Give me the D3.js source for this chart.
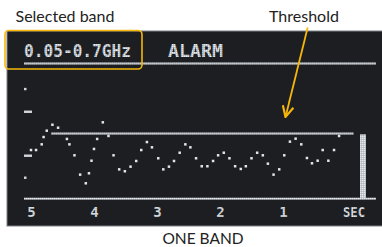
<!DOCTYPE html>
<html>
<head>
<meta charset="utf-8">
<style>
  html, body { margin: 0; padding: 0; background: #fff; }
  svg { display: block; }
</style>
</head>
<body>
<div id="chart"></div>
<script src="https://cdnjs.cloudflare.com/ajax/libs/d3/7.8.5/d3.min.js"></script>
<script>
  // Chart data: seconds before now and signal level (0-100 of the screen)
  const times = [5.00, 4.92, 4.83, 4.80, 4.75, 4.66, 4.57, 4.43, 4.39, 4.31,
                 4.22, 4.13, 4.08, 4.04, 4.00, 3.95, 3.86, 3.77, 3.69, 3.60,
                 3.51, 3.42, 3.33, 3.25, 3.16, 3.08, 2.98, 2.90, 2.81, 2.73,
                 2.64, 2.55, 2.47, 2.38, 2.29, 2.20, 2.11, 2.03, 1.94, 1.85,
                 1.76, 1.67, 1.59, 1.50, 1.41, 1.32, 1.24, 1.15, 1.06, 0.98,
                 0.89, 0.80, 0.71, 0.62, 0.54, 0.45, 0.37, 0.28, 0.19, 0.11];
  const levels = [36.0, 36.0, 40.2, 45.6, 50.3, 54.7, 52.5, 44.2, 40.2, 32.1,
                  17.8, 11.4, 18.8, 28.1, 36.8, 44.2, 56.5, 46.4, 32.1, 21.7,
                  20.3, 23.7, 27.9, 36.0, 41.9, 38.0, 29.9, 21.7, 23.7, 27.9,
                  34.0, 40.2, 38.0, 29.9, 24.0, 24.0, 27.9, 32.1, 34.0, 29.9,
                  24.0, 22.0, 24.0, 29.9, 34.0, 32.1, 25.9, 17.8, 21.7, 32.1,
                  42.2, 44.4, 40.2, 30.1, 26.2, 28.1, 36.0, 28.1, 36.0, 46.4];
  const tickSeconds = [5, 4, 3, 2, 1];
  const unitLabel = "SEC";
  const thresholdLevel = 48.2;
  const thresholdSpan = [4.68, -0.12];   // seconds where the threshold line is drawn
  const currentLevel = 47.6;             // the live bar at the right
  const scaleMarks = [                   // y-axis markers left of the trace
    {level: 81.1, kind: "dot"},
    {level: 64.3, kind: "dash"},
    {level: 31.8, kind: "dash"},
    {level: 15.5, kind: "dot"}
  ];
  const bandLabel = "0.05-0.7GHz";
  const modeLabel = "ALARM";
  const notes = {band: "Selected band", threshold: "Threshold", caption: "ONE BAND"};

  const width = 382, height = 247;
  const screen = {x: 7, y: 31, w: 380, h: 195};
  const plotLeft = 24, plotRight = 376, headerY = 63.5, baseY = 198.7;

  const x = d3.scaleLinear().domain([5, 0]).range([31, 346]);
  const y = d3.scaleLinear().domain([0, 100]).range([baseY, headerY]);

  const lcd = "#d3d7db";
  const yellow = "#f6b60a";

  const svg = d3.create("svg")
    .attr("width", width)
    .attr("height", height)
    .attr("viewBox", [0, 0, width, height]);

  const defs = svg.append("defs");
  // faint pixel grid texture for the LCD strokes
  const pat = defs.append("pattern")
    .attr("id", "lcd")
    .attr("width", 2).attr("height", 2)
    .attr("patternUnits", "userSpaceOnUse");
  pat.append("rect").attr("width", 2).attr("height", 2).attr("fill", "#a3a9ae");
  pat.append("rect").attr("width", 1.5).attr("height", 1.5).attr("fill", "#e8ebee");

  defs.append("marker")
    .attr("id", "arrow")
    .attr("viewBox", "0 0 12 12")
    .attr("refX", 11).attr("refY", 6)
    .attr("markerWidth", 13).attr("markerHeight", 13)
    .attr("markerUnits", "userSpaceOnUse")
    .attr("orient", "auto")
    .append("path")
    .attr("d", "M1,1 L11,6 L1,11")
    .attr("fill", "none")
    .attr("stroke", yellow)
    .attr("stroke-width", 2);

  // the device screen
  svg.append("rect")
    .attr("x", screen.x).attr("y", screen.y)
    .attr("width", screen.w).attr("height", screen.h)
    .attr("fill", "#1c1e22")
    .attr("stroke", "#7d8084")
    .attr("stroke-width", 1);

  const lcdFont = "'DejaVu Sans Mono', monospace";

  // header texts
  svg.append("text")
    .attr("x", plotLeft).attr("y", 57)
    .attr("font-family", lcdFont).attr("font-weight", "bold")
    .attr("font-size", 17.5)
    .attr("textLength", 107).attr("lengthAdjust", "spacingAndGlyphs")
    .attr("fill", "url(#lcd)")
    .text(bandLabel);

  svg.append("text")
    .attr("x", 168).attr("y", 57)
    .attr("font-family", lcdFont).attr("font-weight", "bold")
    .attr("font-size", 17.5)
    .attr("textLength", 55).attr("lengthAdjust", "spacingAndGlyphs")
    .attr("fill", "url(#lcd)")
    .text(modeLabel);

  // header rule and baseline
  [headerY, baseY].forEach(yy => {
    svg.append("rect")
      .attr("x", plotLeft).attr("y", yy - 1)
      .attr("width", plotRight - plotLeft).attr("height", 2)
      .attr("fill", "url(#lcd)");
  });

  // threshold line
  svg.append("rect")
    .attr("x", x(thresholdSpan[0]))
    .attr("y", y(thresholdLevel) - 1)
    .attr("width", x(thresholdSpan[1]) - x(thresholdSpan[0]))
    .attr("height", 2)
    .attr("fill", "url(#lcd)");

  // live level bar
  svg.append("rect")
    .attr("x", 360).attr("y", y(currentLevel))
    .attr("width", 6).attr("height", baseY - y(currentLevel))
    .attr("fill", "url(#lcd)");

  // y markers
  svg.append("g")
    .selectAll("rect")
    .data(scaleMarks)
    .join("rect")
    .attr("x", 24)
    .attr("y", d => y(d.level) - 1.2)
    .attr("width", d => d.kind === "dash" ? 8 : 2.5)
    .attr("height", 2.4)
    .attr("fill", lcd);

  // trace points
  const points = times.map((t, i) => ({t, v: levels[i]}));
  svg.append("g")
    .selectAll("rect")
    .data(points)
    .join("rect")
    .attr("x", d => x(d.t) - 1.25)
    .attr("y", d => y(d.v) - 1.25)
    .attr("width", 2.5)
    .attr("height", 2.5)
    .attr("fill", "#e2e5e8");

  // x axis labels
  const axis = d3.axisBottom(x)
    .tickValues(tickSeconds)
    .tickFormat(d3.format("d"))
    .tickSize(0)
    .tickPadding(0);

  const axisG = svg.append("g")
    .attr("transform", `translate(0,${baseY + 18.3})`)
    .call(axis);
  axisG.select(".domain").remove();
  axisG.selectAll("text")
    .attr("dy", 0)
    .attr("font-family", lcdFont).attr("font-weight", "bold")
    .attr("font-size", 14)
    .attr("fill", "url(#lcd)");

  svg.append("text")
    .attr("x", 365).attr("y", baseY + 18.3)
    .attr("text-anchor", "end")
    .attr("font-family", lcdFont).attr("font-weight", "bold")
    .attr("font-size", 14)
    .attr("textLength", 22).attr("lengthAdjust", "spacingAndGlyphs")
    .attr("fill", "url(#lcd)")
    .text(unitLabel);

  // annotations
  const noteFont = "Lato, 'Open Sans', sans-serif";
  svg.append("rect")
    .attr("x", 5).attr("y", 30.5)
    .attr("width", 137).attr("height", 38.5)
    .attr("rx", 4)
    .attr("fill", "none")
    .attr("stroke", yellow)
    .attr("stroke-width", 1.6);

  svg.append("text")
    .attr("x", 15.5).attr("y", 21.5)
    .attr("font-family", noteFont).attr("font-size", 16)
    .attr("fill", "#222")
    .text(notes.band);

  svg.append("text")
    .attr("x", 304).attr("y", 21.5)
    .attr("text-anchor", "middle")
    .attr("font-family", noteFont).attr("font-size", 16)
    .attr("fill", "#222")
    .text(notes.threshold);

  svg.append("line")
    .attr("x1", 307.7).attr("y1", 27.5)
    .attr("x2", 285.5).attr("y2", 117)
    .attr("stroke", yellow)
    .attr("stroke-width", 1.8)
    .attr("marker-end", "url(#arrow)");

  svg.append("text")
    .attr("x", 203).attr("y", 243.5)
    .attr("text-anchor", "middle")
    .attr("font-family", noteFont).attr("font-size", 15.5)
    .attr("fill", "#222")
    .text(notes.caption);

  d3.select("#chart").node().appendChild(svg.node());
</script>
</body>
</html>
